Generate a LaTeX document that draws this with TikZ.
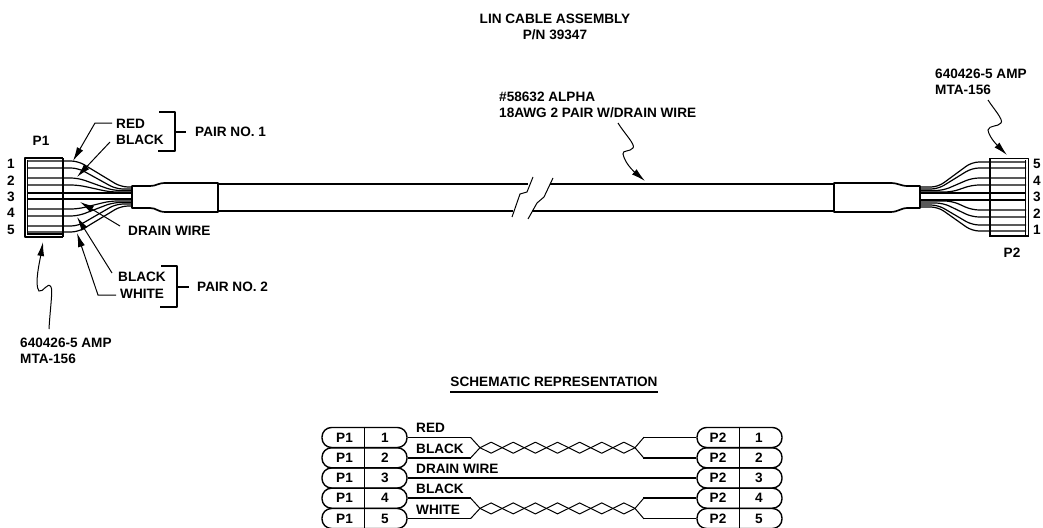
\documentclass[tikz,border=0pt]{standalone}
\usepackage{fontspec}
\setmainfont{Liberation Sans}
\usetikzlibrary{arrows.meta}
\tikzset{
  x=1pt,y=-1pt,
  lbl/.style={font=\bfseries\fontsize{13.6}{15}\selectfont,inner sep=0pt,anchor=west},
  ctr/.style={lbl,anchor=center},
  wire/.style={line width=1.2pt,line join=round,rounded corners=7pt},
  heavy/.style={line width=1.7pt,line join=round},
  thin/.style={line width=1pt,line join=round},
  lead/.style={line width=1pt,-{Latex[length=14pt,width=7pt]}},
  pill/.style={draw,line width=1.4pt,rounded corners=9.5pt,minimum width=85pt,minimum height=20pt,inner sep=0pt},
}
\newcommand{\zigA}{++(11.07,-5.5) -- ++(11.07,5.5) -- ++(11.07,5.5) -- ++(11.07,-5.5)}
\newcommand{\zigB}{++(11.07,5.5) -- ++(11.07,-5.5) -- ++(11.07,-5.5) -- ++(11.07,5.5)}
\begin{document}
\begin{tikzpicture}
\useasboundingbox (0,0) rectangle (1043,527);
% titles
\node[ctr] (t1) at (555,19) {LIN CABLE ASSEMBLY};
\node[ctr] (t2) at (555,35) {P/N 39347};
\node[ctr] (t3) at (554,382) {SCHEMATIC REPRESENTATION};
\coordinate (u1) at (t3.west |- 0,392);
\coordinate (u2) at (t3.east |- 0,392);
\draw[heavy] (u1) -- (u2);
% left wires
\foreach \a/\bx/\b in {161/121/187, 168/116/189, 178/113/190.5, 185/110/192, 193/100/193, 199/100/199, 209/110/201, 216/113/202.5, 226/116/204, 232/121/206}{
  \draw[wire] (27,\a) -- (78,\a) -- (\bx,\b) -- (132,\b);
}
% left connector
\draw[heavy] (63,158) -- (25,158) -- (25,237) -- (63,237);
\draw[thin] (27,160) -- (27,235);
\draw[heavy] (27,234) -- (63,234);
\draw[heavy] (63,158) -- (63,237);
% left boot and cable
\draw[heavy] (132,186) -- (150,186) .. controls (157,186) and (157,183) .. (166,183) -- (218,183) -- (218,212) -- (166,212) .. controls (157,212) and (157,208) .. (150,208) -- (132,208) -- cycle;
\draw[heavy] (218,184) -- (528,184);
\draw[heavy] (218,211) -- (513,211);
\draw[heavy] (550,184) -- (834,184);
\draw[heavy] (532,211) -- (834,211);
% break
\draw[thin] (533,177) -- (527,192) -- (520,194) -- (512,217);
\draw[thin] (553,178) -- (544,197) -- (537,203) -- (528,219);
% right wires
\foreach \a/\bx/\b in {162/938/187, 168/938/189, 178/943/190.5, 185/952/192, 193/960/193, 200/960/200, 210/952/201, 217/943/203, 225/938/205, 231/938/207}{
  \draw[wire] (1026,\a) -- (972,\a) -- (\bx,\b) -- (920,\b);
}
% right boot
\draw[heavy] (920,186) -- (908,186) .. controls (900,186) and (899,183) .. (890,183) -- (834,183) -- (834,212) -- (890,212) .. controls (899,212) and (900,208) .. (908,208) -- (920,208) -- cycle;
% right connector
\draw[thin] (990,158) -- (1028,158) -- (1028,237);
\draw[thin] (1025,160) -- (1025,235);
\draw[heavy] (990,236) -- (1028,236);
\draw[heavy] (990,158) -- (990,237);
% numbers
\foreach \n/\y in {1/164,2/181,3/197,4/213,5/230}{\node[ctr] (ln\n) at (11,\y) {\n};}
\foreach \n/\y in {5/164,4/181,3/197,2/214,1/230}{\node[ctr] (rn\n) at (1037,\y) {\n};}
\node[ctr] (p1) at (41,141) {P1};
\node[ctr] (p2) at (1012,253) {P2};
% left labels
\node[lbl] (red) at (116,124) {RED};
\node[lbl] (blk) at (116,140) {BLACK};
\node[lbl] (pr1) at (195,132) {PAIR NO. 1};
\draw[heavy] (159,112) -- (175,112) -- (175,151) -- (158,151);
\draw[heavy] (175,132) -- (186,132);
\coordinate (r1) at (112,123);\coordinate (r2) at (95,123);\coordinate (r3) at (73,161);
\draw[lead] (r1) -- (r2) -- (r3);
\coordinate (b1) at (110,142);\coordinate (b2) at (77,177);
\draw[lead] (b1) -- (b2);
\node[lbl] (dw) at (128,231) {DRAIN WIRE};
\coordinate (d1) at (120,226);\coordinate (d2) at (80,202);
\draw[lead] (d1) -- (d2);
\node[lbl] (blk2) at (118,277) {BLACK};
\node[lbl] (wht2) at (120,294) {WHITE};
\node[lbl] (pr2) at (197,287) {PAIR NO. 2};
\draw[heavy] (161,266) -- (177,266) -- (177,307) -- (160,307);
\draw[heavy] (177,287) -- (189,287);
\coordinate (k1) at (112,273);\coordinate (k2) at (77,217);
\draw[lead] (k1) -- (k2);
\coordinate (w1) at (116,295);\coordinate (w2) at (98,295);\coordinate (w3) at (77,233);
\draw[lead] (w1) -- (w2) -- (w3);
% amp left
\node[lbl] (al1) at (20,343) {640426-5 AMP};
\node[lbl] (al2) at (20,359) {MTA-156};
\draw[lead] (49,329) .. controls (50,310) and (53,290) .. (51,287) .. controls (48,281) and (43,293) .. (39,291) .. controls (34,285) and (40,260) .. (43,242);
% cable label
\node[lbl] (c1) at (499,97) {\#58632 ALPHA};
\node[lbl] (c2) at (499,113) {18AWG 2 PAIR W/DRAIN WIRE};
\draw[lead] (618,123) .. controls (624,133) and (636,145) .. (633,148) .. controls (630,152) and (622,150) .. (623,154) .. controls (625,165) and (638,175) .. (645,181);
% amp right
\node[lbl] (ar1) at (935,74) {640426-5 AMP};
\node[lbl] (ar2) at (935,90) {MTA-156};
\draw[lead] (988,100) .. controls (993,108) and (1004,120) .. (1001,123) .. controls (998,127) and (989,125) .. (988,130) .. controls (989,138) and (1000,148) .. (1007,155);
% schematic
\foreach \i/\y in {1/437.5,2/457.8,3/478,4/498.2,5/518.5}{
  \node[pill] (L\i) at (364.5,\y) {};
  \node[pill] (R\i) at (739.5,\y) {};
  \node[ctr] (Lp\i) at (344.5,\y) {P1};
  \node[ctr] (Ln\i) at (385,\y) {\i};
  \node[ctr] (Rp\i) at (718,\y) {P2};
  \node[ctr] (Rn\i) at (759,\y) {\i};
}
\draw[line width=1.4pt] (L1.north) -- (L5.south);
\draw[line width=1.4pt] (R1.north) -- (R5.south);
\node[lbl] at (416,428) {RED};
\node[lbl] at (416,449) {BLACK};
\node[lbl] at (416,469) {DRAIN WIRE};
\node[lbl] at (416,489) {BLACK};
\node[lbl] at (416,510) {WHITE};
\draw[heavy] (L3.east) -- (R3.west);
\foreach \a/\b/\m in {1/2/447.7,4/5/508.4}{
  \draw[heavy] (L\a.east) -- ++(63,0);
  \draw[heavy] (L\b.east) -- ++(63,0);
  \draw[heavy] (R\a.west) -- ++(-53,0);
  \draw[heavy] (R\b.west) -- ++(-53,0);
  \coordinate (ta) at (480,\m);
  \draw[thin] (L\a.east)++(63,0) -- (ta) -- \zigA -- \zigB -- \zigA -- ++(11.07,-5.5) -- ++(11.07,5.5) -- ++(9,-10.5);
  \draw[thin] (L\b.east)++(63,0) -- (ta) -- \zigB -- \zigA -- \zigB -- ++(11.07,5.5) -- ++(11.07,-5.5) -- ++(9,10.5);
}
\end{tikzpicture}
\end{document}
